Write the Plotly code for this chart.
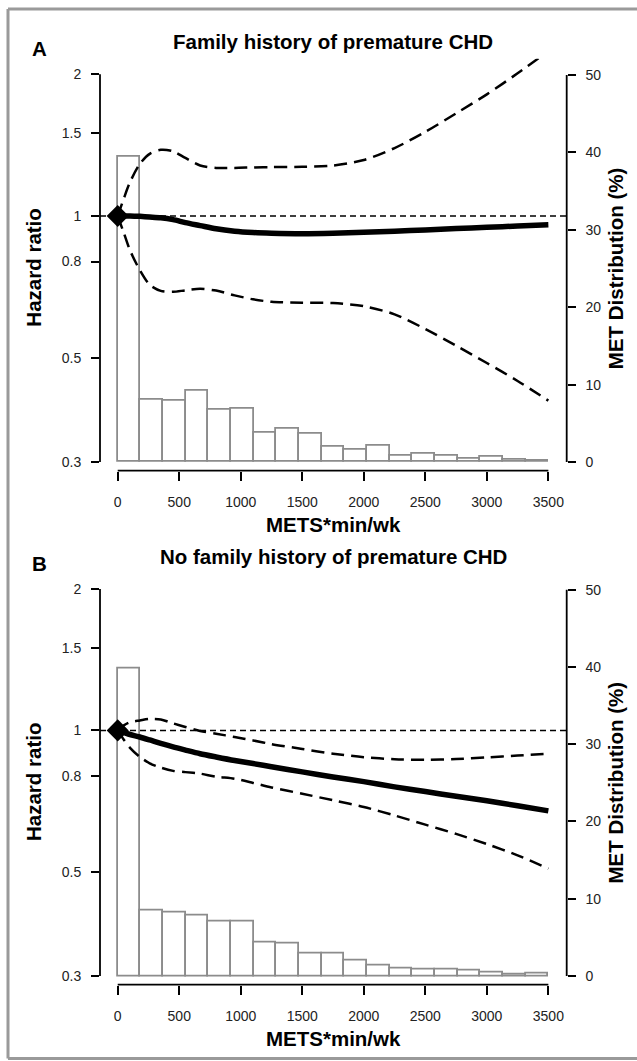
import math
import plotly.graph_objects as go

# ---------------- data ----------------
mets = [0, 50, 100, 180, 260, 350, 450, 550, 670, 800, 950, 1100, 1250, 1500,
        1750, 2000, 2250, 2500, 2750, 3000, 3250, 3500]

# Panel A: family history of premature CHD
a_hr = [1.0, 1.0, 1.0, 0.998, 0.995, 0.991, 0.982, 0.968, 0.954, 0.939, 0.928, 0.922,
        0.919, 0.917, 0.919, 0.923, 0.928, 0.934, 0.940, 0.946, 0.952, 0.958]
a_upper = [1.0, 1.09, 1.18, 1.29, 1.355, 1.382, 1.372, 1.328, 1.28, 1.265, 1.265, 1.268,
           1.27, 1.272, 1.28, 1.315, 1.394, 1.509, 1.652, 1.813, 2.01, 2.24]
a_lower = [1.0, 0.92, 0.845, 0.767, 0.714, 0.693, 0.69, 0.695, 0.70, 0.694, 0.678, 0.665,
           0.657, 0.654, 0.653, 0.643, 0.618, 0.575, 0.53, 0.487, 0.446, 0.405]
a_hist = [39.4, 8.1, 7.9, 9.2, 6.7, 6.85, 3.8, 4.35, 3.6, 1.9, 1.6, 2.1, 0.8, 1.0,
          0.8, 0.45, 0.7, 0.3, 0.15]

# Panel B: no family history of premature CHD
b_hr = [1.0, 0.99, 0.98, 0.968, 0.954, 0.938, 0.922, 0.908, 0.892, 0.878, 0.863, 0.850,
        0.837, 0.816, 0.796, 0.778, 0.758, 0.741, 0.724, 0.708, 0.691, 0.674]
b_upper = [1.0, 1.025, 1.041, 1.05, 1.058, 1.055, 1.035, 1.017, 0.997, 0.984, 0.968, 0.952,
           0.935, 0.913, 0.892, 0.877, 0.868, 0.866, 0.869, 0.876, 0.884, 0.892]
b_lower = [1.0, 0.955, 0.918, 0.878, 0.851, 0.833, 0.82, 0.815, 0.809, 0.797, 0.789, 0.773,
           0.756, 0.733, 0.71, 0.687, 0.659, 0.63, 0.602, 0.573, 0.542, 0.508]
b_hist = [39.8, 8.5, 8.2, 7.8, 7.0, 7.1, 4.3, 4.2, 2.9, 2.9, 2.0, 1.4, 1.0, 0.87,
          0.78, 0.65, 0.52, 0.26, 0.39]

hist_min, hist_max, n_bins = 0, 3500, 19
x_ticks = [0, 500, 1000, 1500, 2000, 2500, 3000, 3500]
hr_ticks = [0.3, 0.5, 0.8, 1, 1.5, 2]
hr_ticktext = ["0.3", "0.5", "0.8", "1", "1.5", "2"]
pct_ticks = [0, 10, 20, 30, 40, 50]
titles = ["Family history of premature CHD", "No family history of premature CHD"]
panel_letters = ["A", "B"]

# ---------------- layout helpers ----------------
W, H = 637, 1061
FONT = "Liberation Sans, Arial, Helvetica, sans-serif"
bw = (hist_max - hist_min) / n_bins
centers = [hist_min + (i + 0.5) * bw for i in range(n_bins)]

def py(px):
    return 1 - px / H

x_left_px, x_right_px = 100, 566.7
panels = [dict(top=58.8, bottom=470.7), dict(top=573.5, bottom=984.7)]

log_lo = math.log10(0.3) - 8.7 / 470.6
log_hi = math.log10(2) + 15.5 / 470.6
pct_lo, pct_hi = -1.124, 52.09

fig = go.Figure()
data = [(a_hr, a_upper, a_lower, a_hist), (b_hr, b_upper, b_lower, b_hist)]
axis_ids = [("x", "y", "y2"), ("x2", "y3", "y4")]

for k, (hr, up, lo, hist) in enumerate(data):
    xa, yb, yl = axis_ids[k]
    fig.add_trace(go.Bar(x=centers, y=hist, width=bw, xaxis=xa, yaxis=yb,
                         marker=dict(color="white", line=dict(color="#8c8c8c", width=1.8)),
                         showlegend=False, hoverinfo="skip"))
    for ci in (up, lo):
        fig.add_trace(go.Scatter(x=mets, y=ci, mode="lines", xaxis=xa, yaxis=yl,
                                 line=dict(color="black", width=2.5, dash="13px,7px",
                                           shape="spline", smoothing=0.8),
                                 showlegend=False, hoverinfo="skip"))
    fig.add_trace(go.Scatter(x=mets, y=hr, mode="lines", xaxis=xa, yaxis=yl,
                             line=dict(color="black", width=5.5, shape="spline", smoothing=0.8),
                             showlegend=False, hoverinfo="skip"))
    fig.add_trace(go.Scatter(x=[mets[0]], y=[hr[0]], mode="markers", xaxis=xa, yaxis=yl,
                             marker=dict(symbol="diamond", size=17, color="black"),
                             showlegend=False, hoverinfo="skip"))

tickfont = dict(family=FONT, size=14, color="#222")
xdom = [x_left_px / W, x_right_px / W]
layout = dict(width=W, height=H, margin=dict(l=0, r=0, t=0, b=0),
              paper_bgcolor="white", plot_bgcolor="white", bargap=0,
              showlegend=False)

common_x = dict(domain=xdom, range=[-143.9, 3649], tickvals=x_ticks, ticks="outside",
                ticklen=9, tickwidth=1.8, tickcolor="black", showline=False,
                showgrid=False, zeroline=False, tickfont=tickfont, ticklabelstandoff=9)
common_pct = dict(range=[pct_lo, pct_hi], tickvals=pct_ticks, ticks="outside", ticklen=8,
                  tickwidth=1.8, tickcolor="black", showline=False, showgrid=False,
                  zeroline=False, side="right", tickfont=tickfont, ticklabelstandoff=7)
common_log = dict(type="log", range=[log_lo, log_hi], tickvals=hr_ticks, ticktext=hr_ticktext,
                  ticks="outside", ticklen=8, tickwidth=1.8, tickcolor="black",
                  showline=False, showgrid=False, zeroline=False, side="left",
                  tickfont=tickfont, ticklabelstandoff=7)

for k in range(2):
    xa, yb, yl = axis_ids[k]
    p = panels[k]
    ydom = [py(p["bottom"]), py(p["top"])]
    xkey = "xaxis" if xa == "x" else "xaxis" + xa[1:]
    bkey = "yaxis" if yb == "y" else "yaxis" + yb[1:]
    lkey = "yaxis" + yl[1:]
    layout[xkey] = dict(common_x, anchor=yb)
    layout[bkey] = dict(common_pct, domain=ydom, anchor=xa)
    layout[lkey] = dict(common_log, overlaying=yb, anchor=xa)

fig.update_layout(**layout)

shapes = []
annotations = []
title_font = dict(family=FONT, size=20.5, color="black", weight="bold")
for k in range(2):
    xa, yb, yl = axis_ids[k]
    p = panels[k]
    shapes.append(dict(type="line", xref=xa, yref=yb + " domain", x0=x_ticks[0], x1=x_ticks[-1],
                       y0=0, y1=0, line=dict(color="black", width=1.8)))
    shapes.append(dict(type="line", xref=xa + " domain", yref=yl, x0=0, x1=0,
                       y0=hr_ticks[0], y1=hr_ticks[-1], line=dict(color="black", width=1.8)))
    shapes.append(dict(type="line", xref=xa + " domain", yref=yb, x0=1, x1=1,
                       y0=pct_ticks[0], y1=pct_ticks[-1], line=dict(color="black", width=1.8)))
    shapes.append(dict(type="line", xref=xa + " domain", yref=yl, x0=0, x1=1, y0=1, y1=1,
                       line=dict(color="black", width=1.5, dash="6px,4px")))
    mid_y = (p["top"] + 15.5 + p["bottom"] - 8.7) / 2
    annotations += [
        dict(text=titles[k], xref="paper", yref="paper", x=333 / W, y=py(p["top"] - 17),
             xanchor="center", yanchor="middle", showarrow=False, font=title_font),
        dict(text=panel_letters[k], xref="paper", yref="paper", x=39 / W, y=py(p["top"] - 10.5),
             xanchor="center", yanchor="middle", showarrow=False, font=title_font),
        dict(text="METS*min/wk", xref="paper", yref="paper", x=333 / W, y=py(p["bottom"] + 54),
             xanchor="center", yanchor="middle", showarrow=False, font=title_font),
        dict(text="Hazard ratio", xref="paper", yref="paper", x=33.5 / W, y=py(mid_y),
             xanchor="center", yanchor="middle", showarrow=False, textangle=-90,
             font=title_font),
        dict(text="MET Distribution (%)", xref="paper", yref="paper", x=615 / W, y=py(mid_y),
             xanchor="center", yanchor="middle", showarrow=False, textangle=-90,
             font=title_font),
    ]

# outer gray frame: left, top and bottom edges (right edge lies outside the page)
frame = dict(color="#9a9a9a", width=3)
shapes.append(dict(type="line", xref="paper", yref="paper", x0=8 / W, x1=8 / W,
                   y0=py(1058.5), y1=py(9), line=frame))
shapes.append(dict(type="line", xref="paper", yref="paper", x0=8 / W, x1=1,
                   y0=py(9), y1=py(9), line=frame))
shapes.append(dict(type="line", xref="paper", yref="paper", x0=8 / W, x1=1,
                   y0=py(1058.5), y1=py(1058.5), line=frame))

fig.update_layout(shapes=shapes, annotations=annotations)
fig.write_html("out.html", config={"displayModeBar": False},
               post_script=("document.documentElement.style.margin='0';"
                            "document.documentElement.style.overflow='hidden';"
                            "document.body.style.margin='0';"
                            "document.body.style.overflow='hidden';"))
